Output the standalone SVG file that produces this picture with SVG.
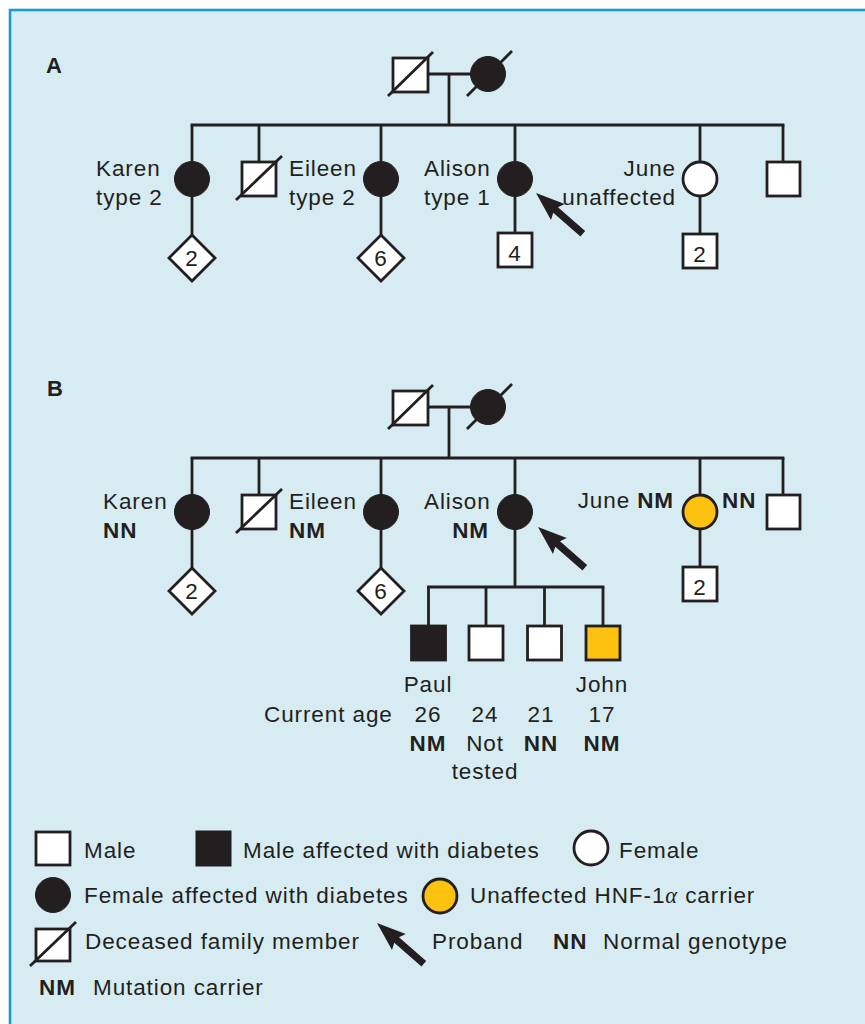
<svg xmlns="http://www.w3.org/2000/svg" xmlns:xlink="http://www.w3.org/1999/xlink" width="865" height="1024" viewBox="0 0 865 1024">
<style>
  text { font-family: "Liberation Sans", Arial, sans-serif; font-size: 22.5px; fill: #231f20; letter-spacing: 0.9px; }
  .b { font-weight: bold; }
  .m { text-anchor: middle; }
  .e { text-anchor: end; }
  .ln { stroke: #231f20; stroke-width: 2.8; fill: none; }
  .w { fill: #ffffff; stroke: #231f20; stroke-width: 2.8; }
  .k { fill: #231f20; stroke: #231f20; stroke-width: 1; }
  .y { fill: #fdc210; stroke: #231f20; stroke-width: 2.8; }
  .d { stroke: #231f20; stroke-width: 2.8; }
  .pl { font-size: 22px; letter-spacing: 0; }
</style>
<defs>
  <path id="arrow" d="M0,0 L29,-10.5 L26,-3.6 L62,-3.6 L62,3.6 L26,3.6 L29,10.5 Z" fill="#231f20"/>
</defs>
<rect x="0" y="0" width="865" height="1024" fill="#ffffff"/>
<rect x="10" y="10" width="880" height="1040" fill="#d7ecf2" stroke="#1b9cc2" stroke-width="2.6"/>

<!-- ===== Panel A ===== -->
<text id="labelA" class="b pl" x="46" y="73">A</text>

<g id="connectorsA">
  <line class="ln" x1="428" y1="74" x2="471" y2="74"/>
  <line class="ln" x1="449" y1="74" x2="449" y2="125"/>
  <line class="ln" x1="190.6" y1="125" x2="784.4" y2="125"/>
  <line class="ln" x1="192" y1="125" x2="192" y2="235"/>
  <line class="ln" x1="259" y1="125" x2="259" y2="162"/>
  <line class="ln" x1="381" y1="125" x2="381" y2="235"/>
  <line class="ln" x1="515" y1="125" x2="515" y2="233"/>
  <line class="ln" x1="700" y1="125" x2="700" y2="234"/>
  <line class="ln" x1="783" y1="125" x2="783" y2="162"/>
</g>

<g id="A_father">
  <rect class="w" x="393" y="58" width="35" height="34"/>
  <line class="d" x1="388" y1="96" x2="433" y2="52"/>
</g>
<g id="A_mother">
  <circle class="k" cx="488" cy="74" r="17.5"/>
  <line class="d" x1="467" y1="96" x2="512" y2="51"/>
</g>
<g id="A_karen">
  <circle class="k" cx="192" cy="179" r="17.5"/>
  <text x="96" y="176">Karen</text>
  <text x="96" y="205">type 2</text>
</g>
<g id="A_karen_children">
  <polygon class="w" points="192,235 215,258 192,281 169,258"/>
  <text class="m" x="192" y="265.5">2</text>
</g>
<g id="A_eileen">
  <rect class="w" x="242" y="162" width="34" height="34"/>
  <line class="d" x1="236" y1="200" x2="282" y2="156"/>
  <text x="289" y="176">Eileen</text>
  <text x="289" y="205">type 2</text>
</g>
<g id="A_sister3">
  <circle class="k" cx="381" cy="179" r="17.5"/>
</g>
<g id="A_sister3_children">
  <polygon class="w" points="381,235 404,258 381,281 358,258"/>
  <text class="m" x="381" y="265.5">6</text>
</g>
<g id="A_alison">
  <circle class="k" cx="515" cy="179" r="17.5"/>
  <text x="424" y="176">Alison</text>
  <text x="424" y="205">type 1</text>
  <use xlink:href="#arrow" href="#arrow" transform="translate(536,193) rotate(41)"/>
</g>
<g id="A_alison_children">
  <rect class="w" x="498" y="233" width="34" height="34"/>
  <text class="m" x="515" y="261">4</text>
</g>
<g id="A_june">
  <circle class="w" cx="700" cy="179" r="17"/>
  <text class="e" x="676" y="176">June</text>
  <text class="e" x="676" y="205">unaffected</text>
</g>
<g id="A_june_children">
  <rect class="w" x="683" y="234" width="34" height="34"/>
  <text class="m" x="700" y="262">2</text>
</g>
<g id="A_brother">
  <rect class="w" x="767" y="162" width="33" height="34"/>
</g>

<!-- ===== Panel B ===== -->
<text id="labelB" class="b pl" x="47" y="396">B</text>

<g id="connectorsB">
  <line class="ln" x1="428" y1="407" x2="471" y2="407"/>
  <line class="ln" x1="449" y1="407" x2="449" y2="458"/>
  <line class="ln" x1="190.6" y1="458" x2="784.4" y2="458"/>
  <line class="ln" x1="192" y1="458" x2="192" y2="568"/>
  <line class="ln" x1="259" y1="458" x2="259" y2="495"/>
  <line class="ln" x1="381" y1="458" x2="381" y2="568"/>
  <line class="ln" x1="515" y1="458" x2="515" y2="587"/>
  <line class="ln" x1="700" y1="458" x2="700" y2="567"/>
  <line class="ln" x1="783" y1="458" x2="783" y2="495"/>
  <line class="ln" x1="427.1" y1="587" x2="604.4" y2="587"/>
  <line class="ln" x1="428.5" y1="587" x2="428.5" y2="626"/>
  <line class="ln" x1="486" y1="587" x2="486" y2="626"/>
  <line class="ln" x1="544.5" y1="587" x2="544.5" y2="626"/>
  <line class="ln" x1="603" y1="587" x2="603" y2="626"/>
</g>

<g id="B_father">
  <rect class="w" x="393" y="391" width="35" height="34"/>
  <line class="d" x1="388" y1="429" x2="433" y2="385"/>
</g>
<g id="B_mother">
  <circle class="k" cx="488" cy="407" r="17.5"/>
  <line class="d" x1="467" y1="429" x2="512" y2="384"/>
</g>
<g id="B_karen">
  <circle class="k" cx="192" cy="512" r="17.5"/>
  <text x="103" y="509">Karen</text>
  <text class="b" x="103" y="538">NN</text>
</g>
<g id="B_karen_children">
  <polygon class="w" points="192,568 215,591 192,614 169,591"/>
  <text class="m" x="192" y="598.5">2</text>
</g>
<g id="B_eileen">
  <rect class="w" x="242" y="495" width="34" height="34"/>
  <line class="d" x1="236" y1="533" x2="282" y2="489"/>
  <text x="289" y="509">Eileen</text>
  <text class="b" x="289" y="538">NM</text>
</g>
<g id="B_sister3">
  <circle class="k" cx="381" cy="512" r="17.5"/>
</g>
<g id="B_sister3_children">
  <polygon class="w" points="381,568 404,591 381,614 358,591"/>
  <text class="m" x="381" y="598.5">6</text>
</g>
<g id="B_alison">
  <circle class="k" cx="515" cy="512" r="17.5"/>
  <text x="424" y="509">Alison</text>
  <text class="b e" x="489" y="538">NM</text>
  <use xlink:href="#arrow" href="#arrow" transform="translate(538,527) rotate(41)"/>
</g>
<g id="B_june">
  <circle class="y" cx="700" cy="512" r="17"/>
  <text class="e" x="674" y="508">June <tspan class="b">NM</tspan></text>
  <text class="b" x="722" y="508">NN</text>
</g>
<g id="B_june_children">
  <rect class="w" x="683" y="567" width="34" height="34"/>
  <text class="m" x="700" y="595">2</text>
</g>
<g id="B_brother">
  <rect class="w" x="767" y="495" width="33" height="34"/>
</g>
<g id="B_paul">
  <rect class="k" x="411.5" y="626" width="34" height="34" style="stroke-width:2.8"/>
  <text class="m" x="428" y="692">Paul</text>
  <text class="m" x="428" y="722">26</text>
  <text class="m b" x="428" y="751">NM</text>
</g>
<g id="B_son2">
  <rect class="w" x="469" y="626" width="34" height="34"/>
  <text class="m" x="485" y="722">24</text>
  <text class="m" x="485" y="751">Not</text>
  <text class="m" x="485" y="779">tested</text>
</g>
<g id="B_son3">
  <rect class="w" x="527.5" y="626" width="34" height="34"/>
  <text class="m" x="541" y="722">21</text>
  <text class="m b" x="541" y="751">NN</text>
</g>
<g id="B_john">
  <rect class="y" x="586" y="626" width="34" height="34"/>
  <text class="m" x="602" y="692">John</text>
  <text class="m" x="602" y="722">17</text>
  <text class="m b" x="602" y="751">NM</text>
</g>
<text id="currentAge" x="264" y="722">Current age</text>

<!-- ===== Legend ===== -->
<g id="legend">
  <rect class="w" x="36" y="832" width="34" height="33"/>
  <text x="84" y="858">Male</text>
  <rect class="k" x="196" y="831" width="35" height="35"/>
  <text x="243" y="858">Male affected with diabetes</text>
  <circle class="w" cx="591" cy="848" r="17"/>
  <text x="619" y="858">Female</text>

  <circle class="k" cx="53" cy="895" r="17.5"/>
  <text x="84" y="903">Female affected with diabetes</text>
  <circle class="y" cx="440" cy="896" r="17"/>
  <text x="470" y="903">Unaffected HNF-1<tspan style="font-family:'Liberation Serif', serif; font-style:italic">α</tspan> carrier</text>

  <rect class="w" x="36" y="929" width="34" height="32"/>
  <line class="d" x1="30" y1="966" x2="76" y2="922"/>
  <text x="85" y="949">Deceased family member</text>
  <use xlink:href="#arrow" href="#arrow" transform="translate(377,923) rotate(41)"/>
  <text x="432" y="949">Proband</text>
  <text class="b" x="553" y="949">NN</text>
  <text x="603" y="949">Normal genotype</text>

  <text class="b" x="39" y="995">NM</text>
  <text x="93" y="995">Mutation carrier</text>
</g>
</svg>
